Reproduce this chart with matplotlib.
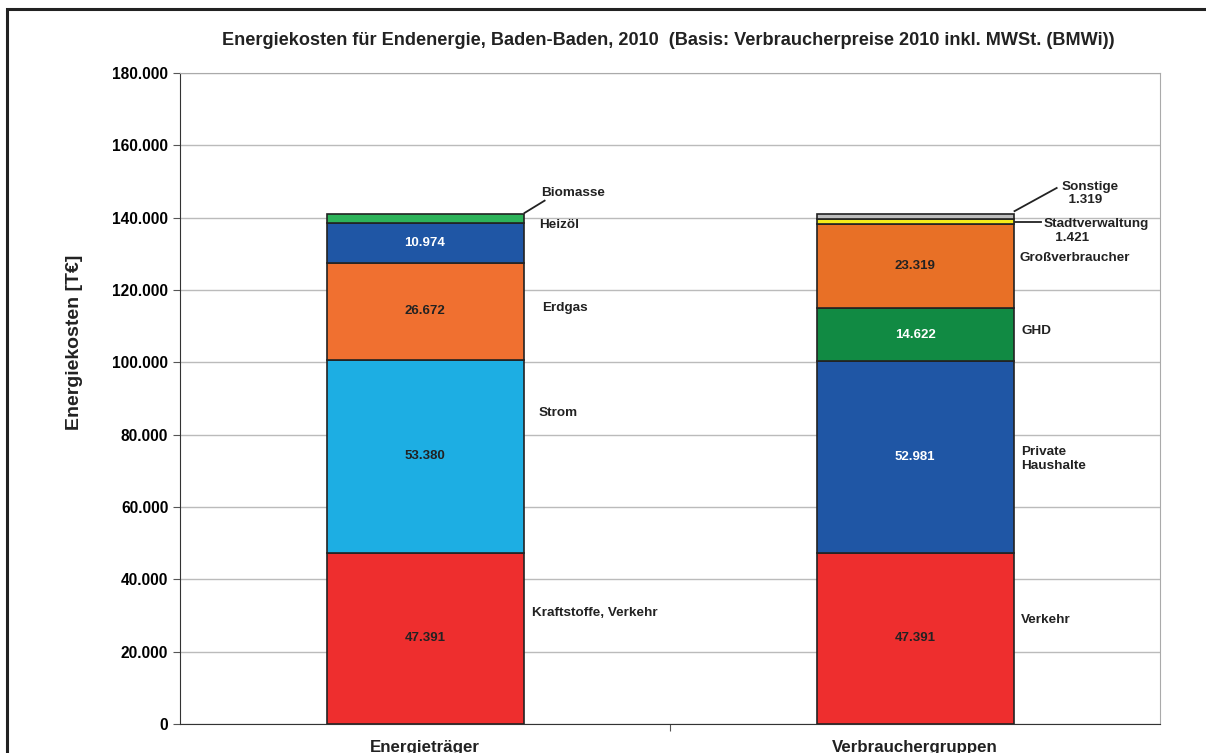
import matplotlib.pyplot as plt
from matplotlib.patches import Rectangle

plt.rcParams['font.family'] = ['Liberation Sans', 'DejaVu Sans']
plt.rcParams['font.weight'] = 'bold'

categories = ['Energieträger', 'Verbrauchergruppen']

# Stacks, bottom -> top, values in T€
traeger_names = ['Kraftstoffe, Verkehr', 'Strom', 'Erdgas', 'Heizöl', 'Biomasse']
traeger_values = [47391, 53380, 26672, 10974, 2636]
traeger_colors = ['#EE2E2E', '#1DAEE3', '#F07030', '#1F56A5', '#2DB35A']
traeger_textcol = ['#222222', '#222222', '#222222', 'white', None]

gruppen_names = ['Verkehr', 'Private\nHaushalte', 'GHD', 'Großverbraucher', 'Stadtverwaltung\n   1.421', 'Sonstige\n  1.319']
gruppen_values = [47391, 52981, 14622, 23319, 1421, 1319]
gruppen_colors = ['#EE2E2E', '#1F56A5', '#118A43', '#E87026', '#F5EB1A', '#BDBDBD']
gruppen_textcol = ['#222222', 'white', 'white', '#222222', None, None]

# side label heights (data units)
traeger_label_y = [30700, 86000, 115000, 138000, 146800]
traeger_label_x = [0.218, 0.232, 0.238, 0.232, 0.236]
gruppen_label_y = [28800, 73300, 108700, 128800, 136300, 146600]
gruppen_label_x = [1.217, 1.217, 1.217, 1.213, 1.263, 1.298]

fig = plt.figure(figsize=(12.06, 7.53), dpi=100)
ax = fig.add_axes([0.1493, 0.0385, 0.8126, 0.8646])

def fmt(v):
    return f'{v:,}'.replace(',', '.')

def stack(x, values, colors, textcol):
    bottom = 0
    for v, c, tc in zip(values, colors, textcol):
        ax.bar(x, v, 0.402, bottom=bottom, color=c, edgecolor='#222222', linewidth=1.2, zorder=3)
        if tc:
            ax.text(x, bottom + v / 2, fmt(v), ha='center', va='center', color=tc, fontsize=9.5, fontweight='bold', zorder=4)
        bottom += v

stack(0, traeger_values, traeger_colors, traeger_textcol)
stack(1, gruppen_values, gruppen_colors, gruppen_textcol)

for name, x, y in zip(traeger_names, traeger_label_x, traeger_label_y):
    ax.text(x, y, name, ha='left', va='center', fontsize=9.7, color='#222222')
for name, x, y in zip(gruppen_names, gruppen_label_x, gruppen_label_y):
    ax.text(x, y, name, ha='left', va='center', fontsize=9.7, color='#222222', linespacing=1.15)

# leader lines
ax.plot([0.203, 0.244], [141300, 144700], color='#222222', lw=1.3, zorder=4)
ax.plot([1.203, 1.289], [141800, 148200], color='#222222', lw=1.3, zorder=4)
ax.plot([1.203, 1.258], [138800, 138800], color='#222222', lw=1.3, zorder=4)

ax.set_xlim(-0.5, 1.5)
ax.set_ylim(0, 180000)
ax.set_yticks(range(0, 180001, 20000))
ax.set_yticklabels([fmt(v) for v in range(0, 180001, 20000)], fontsize=11.2)
ax.yaxis.grid(True, color='#BBBBBB', lw=1, zorder=0)
ax.set_xticks([0.5])
ax.set_xticklabels([''])
ax.tick_params(axis='x', length=5, color='#555555')
ax.tick_params(axis='y', length=5, color='#555555')
for i, c in enumerate(categories):
    ax.text(i, -4300, c, ha='center', va='top', fontsize=12.2, color='#222222')

ax.set_ylabel('Energiekosten [T€]', fontsize=14, fontweight='bold', color='#222222')
ax.yaxis.set_label_coords(-0.099, 0.587)
ax.spines['left'].set_color('#333333')
ax.spines['bottom'].set_color('#333333')
ax.spines['top'].set_color('#AAAAAA')
ax.spines['right'].set_color('#AAAAAA')

fig.text(0.554, 0.946, 'Energiekosten für Endenergie, Baden-Baden, 2010  (Basis: Verbraucherpreise 2010 inkl. MWSt. (BMWi))',
         ha='center', va='center', fontsize=13.1, fontweight='bold', color='#222222')

fig.patches.append(Rectangle((0.006, -0.05), 1.1, 1.038, transform=fig.transFigure,
                             fill=False, edgecolor='#222222', linewidth=2.2))

fig.savefig('out.png', dpi=100)
